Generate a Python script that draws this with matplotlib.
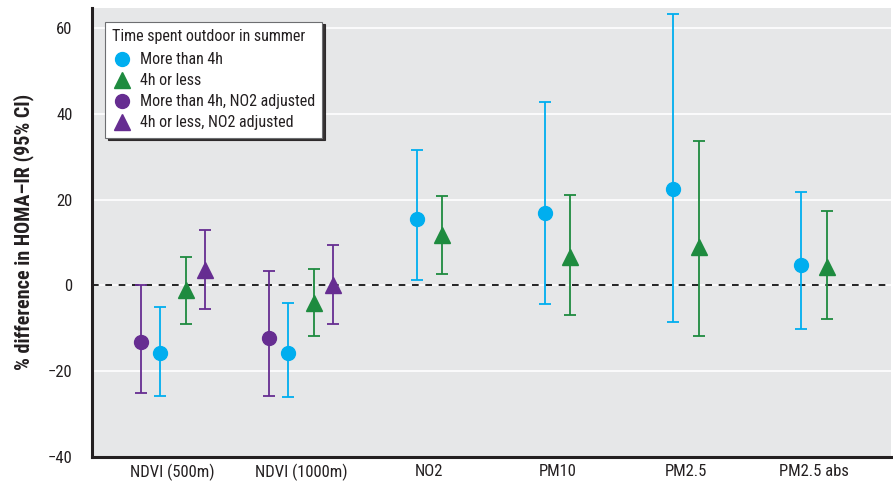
import matplotlib
matplotlib.use("Agg")
from matplotlib import pyplot as plt
from matplotlib.lines import Line2D
import numpy as np

plt.rcParams['font.family'] = ['Roboto Condensed', 'DejaVu Sans']

categories = ['NDVI (500m)', 'NDVI (1000m)', 'NO2', 'PM10', 'PM2.5', 'PM2.5 abs']

# More than 4h (blue circles)
more_val = [-15.7, -15.8, 15.4, 17.0, 22.5, 4.7]
more_lo = [-25.7, -26.0, 1.3, -4.3, -8.6, -10.1]
more_hi = [-5.1, -4.1, 31.7, 42.8, 63.4, 21.7]

# 4h or less (green triangles)
less_val = [-1.0, -4.1, 11.8, 6.6, 9.0, 4.3]
less_lo = [-8.9, -11.8, 2.6, -6.8, -11.8, -7.8]
less_hi = [6.6, 3.8, 20.8, 21.1, 33.6, 17.4]

# NO2 adjusted (purple), only for the two NDVI exposures
more_adj_val = [-13.3, -12.2]
more_adj_lo = [-25.0, -25.8]
more_adj_hi = [0.2, 3.4]

less_adj_val = [3.7, 0.2]
less_adj_lo = [-5.4, -9.0]
less_adj_hi = [13.0, 9.4]

blue = '#00AEEF'
green = '#1E8B3F'
purple = '#662D91'
ink = '#231F20'

x = np.arange(len(categories))

fig = plt.figure(figsize=(8.93, 4.84), dpi=100)
ax = fig.add_axes([0.103, 0.056, 0.895, 0.928])
ax.set_facecolor('#E6E7E8')


def draw(xpos, val, lo, hi, color, marker, ms):
  val = np.array(val)
  err = [val - np.array(lo), np.array(hi) - val]
  ax.errorbar(xpos, val, yerr=err, fmt=marker, color=color, ms=ms,
              mec=color, elinewidth=1.3, capsize=4.5, capthick=1.3,
              zorder=3)


n_adj = len(more_adj_val)
draw(x[:n_adj] - 0.25, more_adj_val, more_adj_lo, more_adj_hi, purple, 'o', 10)
draw(x - 0.1, more_val, more_lo, more_hi, blue, 'o', 10)
draw(x + 0.1, less_val, less_lo, less_hi, green, '^', 11)
draw(x[:n_adj] + 0.25, less_adj_val, less_adj_lo, less_adj_hi, purple, '^', 11)

# legend in the reference order
handles = [Line2D([], [], ls='none', marker='o', color=blue, ms=10),
           Line2D([], [], ls='none', marker='^', color=green, ms=11),
           Line2D([], [], ls='none', marker='o', color=purple, ms=10),
           Line2D([], [], ls='none', marker='^', color=purple, ms=11)]
labels = ['More than 4h', '4h or less', 'More than 4h, NO2 adjusted',
          '4h or less, NO2 adjusted']
leg = ax.legend(handles, labels, title='Time spent outdoor in summer',
                loc='upper left', bbox_to_anchor=(0.016, 0.969),
                fontsize=11.5, title_fontsize=11.5, fancybox=False,
                shadow={'color': ink, 'alpha': 0.9}, framealpha=1,
                edgecolor='#6D6E71', handletextpad=0.45, borderpad=0.45,
                labelspacing=0.38, handlelength=1.3, borderaxespad=0)
leg._legend_box.align = 'left'
leg._legend_box.sep = 6
leg.get_frame().set_linewidth(0.8)
for t in leg.get_texts() + [leg.get_title()]:
  t.set_color(ink)

ax.axhline(0, color='black', ls=(0, (4, 4)), lw=1.2, zorder=2)
ax.set_ylim(-40, 64.8)
ax.set_xlim(-0.63, 5.6)
ax.set_yticks([-40, -20, 0, 20, 40, 60])
ax.set_yticklabels(['\u221240', '\u221220', '0', '20', '40', '60'])
ax.set_xticks(x)
ax.set_xticklabels(categories)
ax.yaxis.grid(True, color='white', lw=1.2)
ax.set_axisbelow(True)
ax.tick_params(length=0, labelsize=12, colors=ink)
ax.tick_params(axis='x', pad=5)
ax.tick_params(axis='y', pad=14)
for s in ['top', 'right']:
  ax.spines[s].set_visible(False)
for s in ['left', 'bottom']:
  ax.spines[s].set_linewidth(2.2)
  ax.spines[s].set_color(ink)

ax.set_ylabel('% difference in HOMA\u2013IR (95% CI)', fontsize=14.5,
              fontweight='bold', color=ink, labelpad=10)

plt.savefig('out.png', dpi=100)
